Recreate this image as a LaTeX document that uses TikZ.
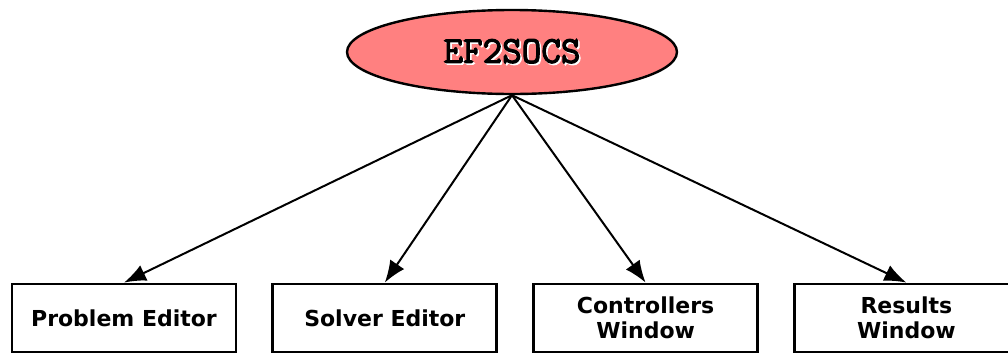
\documentclass[tikz,border=0pt]{standalone}
\usepackage{fontspec}
\setmainfont{DejaVu Sans}
\newfontfamily\efmono{Latin Modern Mono}[FakeBold=3]
\usepackage{xcolor}
\usetikzlibrary{arrows.meta,positioning,shapes.geometric}
\definecolor{toppink}{RGB}{255,128,128}
\newcommand{\shadowtext}[1]{\makebox[0pt][l]{\hspace{0.8pt}\raisebox{-0.8pt}{\color{white}#1}}#1}

\begin{document}
\begin{tikzpicture}[
    x=0.5pt, y=-0.5pt,
    topnode/.style={draw, ellipse, line width=1.2pt, fill=toppink, minimum width=165pt, minimum height=42pt, inner sep=0pt, font=\efmono\fontsize{19}{22}\selectfont},
    win/.style={draw, line width=1.4pt, minimum width=112pt, minimum height=34pt, align=center, inner sep=0pt, font=\bfseries\fontsize{11}{12.5}\selectfont},
    >={Latex[length=11pt,width=8.5pt]},
    node distance=17pt
]
\useasboundingbox (0,0) rectangle (1008,354);

\node[topnode] (ef) at (512,52) {\shadowtext{EF2SOCS}};

\node[win] (prob) at (124,318) {Problem Editor};
\node[win, right=of prob] (solver) {Solver Editor};
\node[win, right=of solver] (ctrl) {Controllers\\Window};
\node[win, right=of ctrl] (res) {Results\\Window};

\draw[->, line width=1pt] (ef.south) -- (prob.north);
\draw[->, line width=1pt] (ef.south) -- (solver.north);
\draw[->, line width=1pt] (ef.south) -- (ctrl.north);
\draw[->, line width=1pt] (ef.south) -- (res.north);

\end{tikzpicture}
\end{document}
